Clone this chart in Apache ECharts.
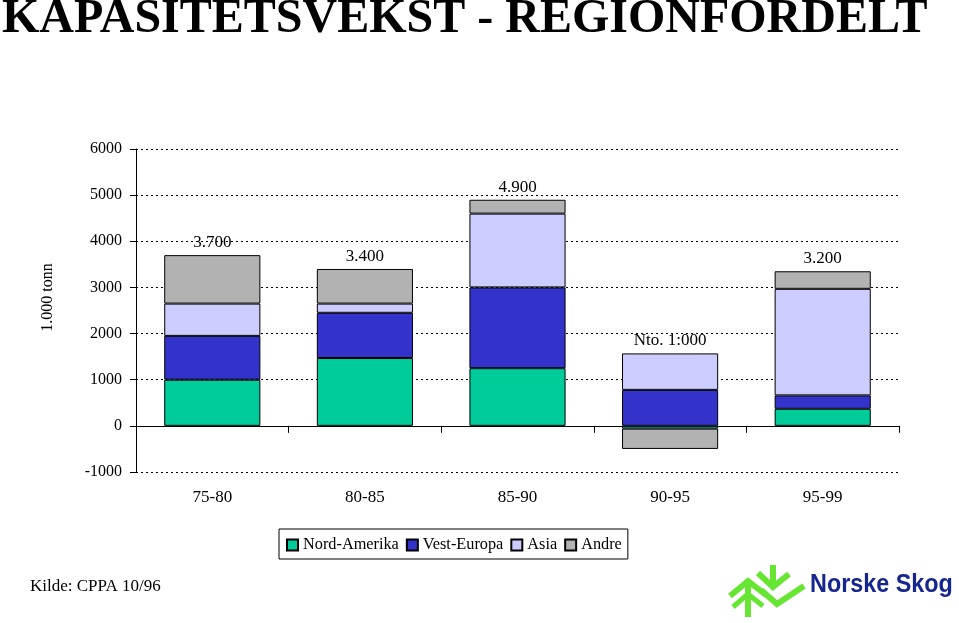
<!DOCTYPE html>
<html>
<head>
<meta charset="utf-8">
<script src="https://cdn.jsdelivr.net/npm/echarts@6/dist/echarts.min.js"></script>
<style>
  html, body { margin: 0; padding: 0; background: #fff; }
  #chart { width: 959px; height: 623px; }
</style>
</head>
<body>
<div id="chart"></div>
<script>
const categories = ['75-80', '80-85', '85-90', '90-95', '95-99'];
const nordAmerika = [1000, 1470, 1250, -60, 370];
const vestEuropa = [950, 980, 1750, 780, 290];
const asia = [700, 200, 1600, 790, 2310];
const andre = [1050, 750, 300, -440, 380];
const totalLabels = ['3.700', '3.400', '4.900', 'Nto. 1:000', '3.200'];
const seriesNames = ['Nord-Amerika', 'Vest-Europa', 'Asia', 'Andre'];
const yMin = -1000, yMax = 6000, yStep = 1000;

const serif = '"Liberation Serif", "Times New Roman", serif';
const colors = ['#00cc99', '#3333cc', '#ccccff', '#b2b2b2'];
const seriesData = [nordAmerika, vestEuropa, asia, andre];

// top of positive stack for each category (label anchor)
const positiveTops = categories.map((c, i) =>
  seriesData.reduce((s, arr) => s + (arr[i] > 0 ? arr[i] : 0), 0));

const chart = echarts.init(document.getElementById('chart'), null, { renderer: 'canvas' });

const barSeries = seriesNames.map((name, k) => ({
  name: name,
  type: 'bar',
  stack: 'total',
  barWidth: '63%',
  data: seriesData[k],
  itemStyle: { color: colors[k], borderColor: '#000', borderWidth: 1 },
  emphasis: { disabled: true },
  animation: false
}));

const option = {
  animation: false,
  backgroundColor: '#fff',
  textStyle: { fontFamily: serif, color: '#000' },
  grid: { left: 136, right: 60, top: 149, bottom: 151, containLabel: false },
  legend: {
    data: seriesNames,
    left: 279,
    top: 529,
    orient: 'horizontal',
    padding: [8, 6, 6, 7],
    itemGap: 7,
    itemWidth: 11,
    itemHeight: 11,
    icon: 'rect',
    borderColor: '#000',
    borderWidth: 1,
    textStyle: { fontFamily: serif, fontSize: 16.3, color: '#000' },
    selectedMode: false
  },
  xAxis: {
    type: 'category',
    data: categories,
    boundaryGap: true,
    axisLine: { onZero: true, lineStyle: { color: '#000', width: 1 } },
    axisTick: { show: true, length: 7, lineStyle: { color: '#000' } },
    axisLabel: { margin: 17, fontFamily: serif, fontSize: 17, color: '#000' },
    splitLine: { show: false }
  },
  yAxis: {
    type: 'value',
    min: yMin,
    max: yMax,
    interval: yStep,
    name: '1.000 tonn',
    nameLocation: 'middle',
    nameRotate: 90,
    nameGap: 80,
    nameTextStyle: { fontFamily: serif, fontSize: 16, color: '#000', padding: [0, 0, 0, 26] },
    axisLine: { show: true, lineStyle: { color: '#000', width: 1 } },
    axisTick: { show: true, length: 6, lineStyle: { color: '#000' } },
    axisLabel: { margin: 14, fontFamily: serif, fontSize: 16, color: '#000', formatter: v => String(v) },
    splitLine: { show: true, lineStyle: { color: '#000', width: 1, type: [2, 3] } }
  },
  series: barSeries.concat([{
    name: 'labels',
    type: 'scatter',
    data: positiveTops,
    symbolSize: 0,
    itemStyle: { color: '#000', opacity: 1 },
    silent: true,
    emphasis: { disabled: true },
    label: {
      show: true,
      position: 'top',
      distance: 4,
      fontFamily: serif,
      fontSize: 17,
      color: '#000',
      opacity: 1,
      formatter: p => totalLabels[p.dataIndex]
    },
    z: 10
  }]),
  graphic: [
    {
      type: 'text', x: 2, y: 20,
      style: {
        text: 'KAPASITETSVEKST - REGIONFORDELT',
        font: 'bold 48px "Liberation Serif", "Times New Roman", serif',
        fill: '#000', verticalAlign: 'middle', align: 'left'
      }
    },
    {
      type: 'text', x: 30, y: 587,
      style: {
        text: 'Kilde: CPPA 10/96',
        font: '17px "Liberation Serif", "Times New Roman", serif',
        fill: '#000', verticalAlign: 'middle', align: 'left'
      }
    },
    {
      type: 'text', x: 810, y: 585, scaleX: 0.935,
      style: {
        text: 'Norske Skog',
        font: 'bold 25px "Liberation Sans", Arial, sans-serif',
        fill: '#16268f', verticalAlign: 'middle', align: 'left'
      }
    },
    // logo mark
    { type: 'polyline', shape: { points: [[748, 580], [748, 617]] }, style: { stroke: '#66e633', lineWidth: 6, fill: null } },
    { type: 'polyline', shape: { points: [[730, 596], [748, 581], [766, 595]] }, style: { stroke: '#66e633', lineWidth: 6, fill: null } },
    { type: 'polyline', shape: { points: [[733, 607], [748, 594], [763, 606]] }, style: { stroke: '#66e633', lineWidth: 5, fill: null } },
    { type: 'polyline', shape: { points: [[773, 565], [773, 588]] }, style: { stroke: '#66e633', lineWidth: 6, fill: null } },
    { type: 'polyline', shape: { points: [[758, 573], [773, 587], [789, 574]] }, style: { stroke: '#66e633', lineWidth: 6, fill: null } },
    { type: 'polyline', shape: { points: [[761, 590], [777, 604], [804, 586]] }, style: { stroke: '#66e633', lineWidth: 6, fill: null } }
  ]
};

chart.setOption(option);
</script>
</body>
</html>
